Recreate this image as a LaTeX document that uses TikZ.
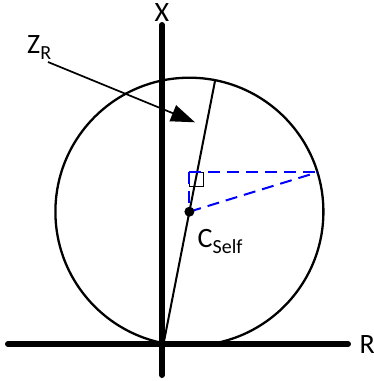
\documentclass[tikz,border=0pt]{standalone}
\usepackage{fontspec}
\setmainfont{Carlito}
\usetikzlibrary{arrows.meta}
\begin{document}
\begin{tikzpicture}[x=1pt,y=-1pt,
  axis/.style={line width=6pt,line cap=round},
  thinline/.style={line width=2pt},
  bluedash/.style={draw=blue,line width=2pt,dash pattern=on 12pt off 7pt},
  lbl/.style={inner sep=0pt,font=\fontsize{28}{30}\selectfont}]
\useasboundingbox (0,0) rectangle (374,381);
% key points
\coordinate (O) at (163.6,343.4);
\coordinate (C) at (189.4,211.7);
\coordinate (T) at (215.2,80);
\coordinate (P) at (317.4,172.3);
\coordinate (Q) at (189.4,172.3);
\coordinate (Vt) at (162,25);
\coordinate (Vb) at (162,375);
\coordinate (Hl) at (8,344);
\coordinate (Hr) at (348,344);
\coordinate (As) at (48,62);
\coordinate (At) at (195,122.3);
% circle
\draw[line width=2.3pt] (C) circle[radius=134];
% axes
\draw[axis] (Vt) -- (Vb);
\draw[axis] (Hl) -- (Hr);
% diameter
\draw[thinline] (O) -- (T);
% right-angle mark
\draw[line width=1.5pt] (Q) rectangle ++(14,14.4);
% blue dashed triangle
\draw[bluedash] (Q) -- (P);
\draw[bluedash] (Q) -- (C);
\draw[bluedash] (C) -- (P);
% centre dot
\fill (C) circle[radius=5];
% labels
\node[lbl,anchor=base] (X) at (162,21.5) {X};
\node[lbl,anchor=base west] (R) at (359.5,353.5) {R};
\node[lbl,anchor=base west] (Z) at (27,53) {Z\raisebox{-6pt}{\fontsize{20}{21}\selectfont R}};
\node[lbl,anchor=base west] (CS) at (197.5,247.5) {C\raisebox{-6pt}{\fontsize{20}{21}\selectfont Self}};
% arrow
\draw[line width=1.7pt,-{Triangle[length=24pt,width=17pt]}] (As) -- (At);
\end{tikzpicture}
\end{document}
